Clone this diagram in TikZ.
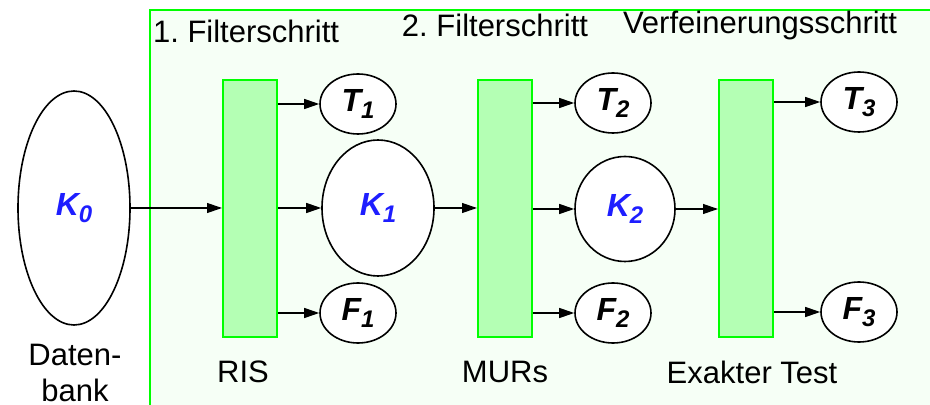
\documentclass[tikz,border=0pt]{standalone}
\usepackage{fontspec}
\setmainfont{Liberation Sans}
\usetikzlibrary{arrows.meta, shapes.geometric}

\definecolor{framegreen}{RGB}{0,255,0}
\definecolor{boxfill}{RGB}{180,255,180}
\definecolor{bgtint}{RGB}{246,255,246}
\definecolor{setblue}{RGB}{30,30,255}

\newcommand{\low}[1]{\raisebox{-0.45ex}{\fontsize{12}{14}\selectfont #1}}

\begin{document}
\frenchspacing
\begin{tikzpicture}[
x=0.5pt, y=-0.5pt,
font=\fontsize{15.5}{18}\selectfont,
filter/.style={rectangle, draw=framegreen, fill=boxfill, line width=1pt, minimum width=27pt, minimum height=128.5pt, inner sep=0pt},
result/.style={ellipse, draw=black, fill=white, line width=0.8pt, minimum width=38pt, minimum height=30pt, inner sep=0pt, font=\fontsize{16}{18}\selectfont\bfseries\itshape},
cand/.style={result, text=setblue},
line/.style={-{Triangle[length=7.5pt, width=5pt]}, line width=0.6pt}
]
\useasboundingbox (0,0) rectangle (930,405);
% frame of the filter steps
\draw[draw=framegreen, fill=bgtint, line width=1.2pt] (150,10) rectangle (940,415);

\node[anchor=west] (h1) at (146,31) {1. Filterschritt};
\node (h2) at (495,25) {2. Filterschritt};
\node (h3) at (760,25) {Verfeinerungsschritt};

% database
\node[cand, minimum width=56pt, minimum height=117pt] (k0) at (74,208) {K\low{0}};
\node[align=center] (db) at (75,373) {Daten-\\bank};

% steps
\node[filter] (ris) at (250,208.5) {};
\node[filter] (murs) at (505,208.5) {};
\node[filter] (exact) at (746,208.5) {};
\node (lris) at (243,372) {RIS};
\node (lmurs) at (505,372) {MURs};
\node (lexact) at (752,372) {Exakter Test};

% results
\node[result] (t1) at (358,104) {T\low{1}};
\node[cand, minimum width=56pt, minimum height=68pt] (k1) at (378,208) {K\low{1}};
\node[result] (f1) at (358,313) {F\low{1}};
\node[result] (t2) at (613,103) {T\low{2}};
\node[cand, minimum width=50pt, minimum height=52.5pt] (k2) at (625,209) {K\low{2}};
\node[result] (f2) at (613,313) {F\low{2}};
\node[result] (t3) at (859,102) {T\low{3}};
\node[result] (f3) at (859,312) {F\low{3}};

\draw[line] (k0) -- (k0 -| ris.west);
\draw[line] (ris.east |- t1) -- (t1);
\draw[line] (ris.east |- k1) -- (k1);
\draw[line] (ris.east |- f1) -- (f1);
\draw[line] (k1) -- (k1 -| murs.west);
\draw[line] (murs.east |- t2) -- (t2);
\draw[line] (murs.east |- k2) -- (k2);
\draw[line] (murs.east |- f2) -- (f2);
\draw[line] (k2) -- (k2 -| exact.west);
\draw[line] (exact.east |- t3) -- (t3);
\draw[line] (exact.east |- f3) -- (f3);
\end{tikzpicture}
\end{document}
